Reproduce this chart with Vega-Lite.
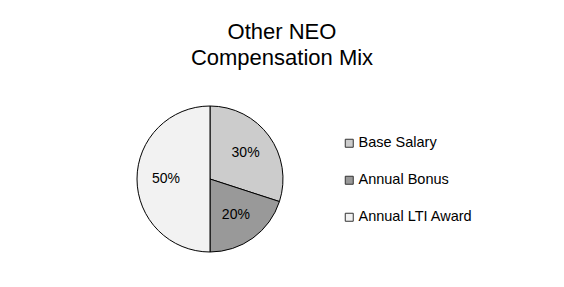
{
  "$schema": "https://vega.github.io/schema/vega-lite/v6.json",
  "width": 146,
  "height": 146,
  "autosize": "none",
  "padding": {"left": 137, "top": 106, "right": 281, "bottom": 35},
  "background": "white",
  "title": {
    "text": ["Other NEO", "Compensation Mix"],
    "font": "Liberation Sans",
    "fontSize": 22,
    "fontWeight": "normal",
    "color": "black",
    "anchor": "middle",
    "dx": 72,
    "offset": 34,
    "lineHeight": 26
  },
  "data": {
    "values": [
      {"component": "Base Salary", "share": 0.3, "rank": 1},
      {"component": "Annual Bonus", "share": 0.2, "rank": 2},
      {"component": "Annual LTI Award", "share": 0.5, "rank": 3}
    ]
  },
  "encoding": {
    "theta": {"field": "share", "type": "quantitative", "stack": true},
    "order": {"field": "rank", "type": "quantitative"},
    "color": {
      "field": "component",
      "type": "nominal",
      "sort": ["Base Salary", "Annual Bonus", "Annual LTI Award"],
      "scale": {
        "domain": ["Base Salary", "Annual Bonus", "Annual LTI Award"],
        "range": ["#cccccc", "#999999", "#f2f2f2"]
      },
      "legend": {
        "title": null,
        "orient": "none",
        "legendX": 205,
        "legendY": 30,
        "symbolType": "square",
        "symbolSize": 64,
        "symbolStrokeColor": "#333333",
        "symbolStrokeWidth": 1,
        "symbolOpacity": 1,
        "labelFont": "Liberation Sans",
        "labelFontSize": 14.5,
        "labelColor": "black",
        "labelOffset": 2,
        "rowPadding": 22
      }
    }
  },
  "layer": [
    {
      "mark": {"type": "arc", "outerRadius": 73, "stroke": "black", "strokeWidth": 1}
    },
    {
      "mark": {"type": "text", "radius": 44, "font": "Liberation Sans", "fontSize": 14, "fill": "black"},
      "encoding": {
        "text": {"field": "share", "type": "quantitative", "format": ".0%"},
        "color": {"value": "black"}
      }
    }
  ],
  "config": {"view": {"stroke": null}}
}
